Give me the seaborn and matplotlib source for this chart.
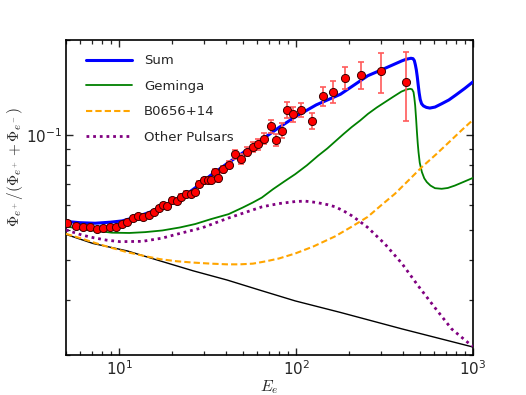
import numpy as np
import pandas as pd
import matplotlib
matplotlib.use("Agg")
import matplotlib.pyplot as plt
import seaborn as sns
from matplotlib.ticker import LogLocator, NullFormatter, LogFormatterMathtext

# ---------------- data ----------------
sum_energy = [5.0, 6.0, 7.3, 8.9, 10.4, 12.0, 14.0, 17.5, 21.8, 26.9, 33.0, 41.3, 52.0, 64.4,
              80.0, 98.8, 130, 178, 215, 254, 318, 397, 420, 446, 458, 466, 472, 478, 484,
              490, 496, 503, 512, 525, 545, 570, 610, 665, 730, 800, 900, 1000]
sum_frac = [0.0531, 0.0526, 0.0524, 0.0528, 0.0533, 0.0545, 0.0561, 0.0587, 0.0622, 0.0679,
            0.0745, 0.0815, 0.0890, 0.0968, 0.1055, 0.114, 0.1245, 0.1345, 0.1445, 0.154,
            0.1626, 0.1718, 0.1738, 0.175, 0.1745, 0.172, 0.167, 0.161, 0.153, 0.144, 0.136,
            0.1295, 0.1255, 0.1235, 0.1222, 0.1216, 0.1225, 0.1255, 0.129, 0.1338, 0.1405,
            0.1473]

geminga_energy = [5.0, 6.0, 7.3, 9.1, 11.4, 14.0, 17.5, 22.0, 26.9, 33.0, 41.5, 50.0, 57.0,
                  64.0, 74.0, 86.0, 98.8, 115, 133, 150, 166, 185, 206, 230, 255, 285, 318,
                  355, 394, 420, 441, 452, 461, 466, 471, 477, 482, 487, 492, 500, 514, 530,
                  548, 575, 610, 665, 720, 789, 880, 1000]
geminga_frac = [0.0512, 0.0503, 0.0496, 0.0489, 0.0488, 0.0491, 0.0497, 0.0508, 0.0521, 0.054,
                0.056, 0.0588, 0.061, 0.0632, 0.0672, 0.0712, 0.075, 0.080, 0.0858, 0.0905,
                0.0952, 0.1005, 0.1058, 0.111, 0.1166, 0.122, 0.127, 0.1322, 0.1372, 0.1392,
                0.140, 0.1395, 0.1367, 0.131, 0.1239, 0.112, 0.102, 0.094, 0.0881, 0.0815,
                0.0762, 0.0728, 0.0708, 0.069, 0.0677, 0.0674, 0.0678, 0.069, 0.0708, 0.073]

b0656_energy = [5.0, 6.0, 7.1, 8.5, 11.1, 14.0, 17.0, 21.0, 26.2, 33.0, 40.7, 48.0, 57.0,
                68.0, 80.0, 98.8, 125, 166, 205, 254, 300, 362, 430, 514, 620, 750, 870, 1000]
b0656_frac = [0.0485, 0.047, 0.0456, 0.0442, 0.0424, 0.0412, 0.0403, 0.0397, 0.0393, 0.039,
              0.0388, 0.0388, 0.039, 0.0397, 0.0405, 0.042, 0.0442, 0.0476, 0.051, 0.0549,
              0.0595, 0.065, 0.0715, 0.079, 0.0868, 0.096, 0.1039, 0.1116]

other_energy = [5.0, 6.2, 7.2, 8.5, 10.1, 13.5, 17.5, 21.3, 29.5, 41.3, 57.1, 64.3, 80.0,
                98.8, 112, 130, 151, 166, 185, 207, 230, 254, 318, 397, 489, 608, 757, 937, 1000]
other_frac = [0.0499, 0.048, 0.0471, 0.0463, 0.0458, 0.0459, 0.047, 0.0484, 0.0507, 0.0544,
              0.0578, 0.0591, 0.0605, 0.0614, 0.0616, 0.061, 0.060, 0.0591, 0.0574, 0.0553,
              0.053, 0.0508, 0.045, 0.039, 0.0332, 0.0283, 0.0242, 0.0219, 0.0213]

secondary_energy = [5.0, 7.1, 11.1, 17.0, 26.2, 40.7, 62.7, 98.8, 178, 397, 1000]
secondary_frac = [0.0483, 0.0452, 0.0428, 0.0398, 0.037, 0.0346, 0.0321, 0.0297, 0.0273,
                  0.0242, 0.0212]

data_energy = [5.06, 5.72, 6.26, 6.84, 7.46, 8.14, 8.87, 9.57, 10.4, 11.1, 11.9, 12.8, 13.7,
               14.7, 15.7, 16.8, 17.7, 18.7, 19.9, 21.3, 22.4, 23.7, 25.3, 26.9, 28.3, 30.0,
               31.7, 33.1, 34.9, 36.4, 38.8, 41.5, 45.2, 48.9, 52.7, 57.2, 61.2, 66.2, 71.8,
               76.9, 83.0, 89.3, 96.2, 107, 123, 142, 162, 189, 232, 301, 417]
data_frac = [0.0526, 0.0514, 0.0510, 0.0508, 0.0503, 0.0506, 0.0510, 0.0510, 0.0521, 0.0528,
             0.0545, 0.0551, 0.0548, 0.0555, 0.0568, 0.0585, 0.0597, 0.0595, 0.0620, 0.0617,
             0.0637, 0.0651, 0.0648, 0.0657, 0.0700, 0.0718, 0.0721, 0.0718, 0.0763, 0.0727,
             0.0778, 0.0803, 0.0868, 0.0837, 0.0885, 0.0916, 0.0932, 0.0973, 0.1064, 0.0962,
             0.1032, 0.1202, 0.1166, 0.1202, 0.1108, 0.1325, 0.1371, 0.1519, 0.1548, 0.1589,
             0.1466]
data_err = [0.0006, 0.0006, 0.0006, 0.0006, 0.0006, 0.0006, 0.0006, 0.0006, 0.0007, 0.0007,
            0.0007, 0.0007, 0.0007, 0.0008, 0.0008, 0.0008, 0.0009, 0.0009, 0.0009, 0.0010,
            0.0010, 0.0010, 0.0011, 0.0011, 0.0012, 0.0013, 0.0013, 0.0014, 0.0018, 0.0017,
            0.0019, 0.0020, 0.0030, 0.0030, 0.0030, 0.0033, 0.0035, 0.0038, 0.0048, 0.0042,
            0.0058, 0.0068, 0.0064, 0.0061, 0.0067, 0.0092, 0.0107, 0.0125, 0.0155, 0.0232,
            0.0360]

xlim = (5, 1000)
ylim = (0.02, 0.2)

# ---------------- style ----------------
sns.set_style("ticks")
plt.rcParams.update({
    "font.family": ["DejaVu Sans"],
    "mathtext.fontset": "cm",
    "xtick.direction": "in",
    "ytick.direction": "in",
    "xtick.top": True,
    "ytick.right": True,
    "axes.linewidth": 1.2,
    "axes.edgecolor": "black",
})

fig = plt.figure(figsize=(5.26, 3.95), dpi=100)
ax = fig.add_axes([66 / 526, 40 / 395, 407 / 526, 315 / 395])
ax.set_xscale("log")
ax.set_yscale("log")

sns.lineplot(x=sum_energy, y=sum_frac, ax=ax, color="#0000ff", lw=2.2,
             estimator=None, sort=False, label="Sum", zorder=3)
sns.lineplot(x=geminga_energy, y=geminga_frac, ax=ax, color="#008000", lw=1.3,
             estimator=None, sort=False, label="Geminga", zorder=3)
sns.lineplot(x=b0656_energy, y=b0656_frac, ax=ax, color="#ffa500", lw=1.5,
             estimator=None, sort=False, label="B0656+14", zorder=3)
sns.lineplot(x=other_energy, y=other_frac, ax=ax, color="#800080", lw=2.0,
             estimator=None, sort=False, label="Other Pulsars", zorder=3)
sns.lineplot(x=secondary_energy, y=secondary_frac, ax=ax, color="black", lw=1.0,
             estimator=None, sort=False, zorder=2)

lines = ax.get_lines()
lines[2].set_linestyle((0, (3, 1.5)))
lines[3].set_linestyle((0, (1, 1.4)))

ax.errorbar(data_energy, data_frac, yerr=data_err, fmt="none", ecolor="#ff5a5a",
            elinewidth=1.2, capsize=2.5, capthick=1.2, zorder=4)
sns.scatterplot(x=data_energy, y=data_frac, ax=ax, color="#ff0000", edgecolor="#3a0000",
                linewidth=0.7, s=34, zorder=5, legend=False)

ax.set_xlim(*xlim)
ax.set_ylim(*ylim)

ax.xaxis.set_major_locator(LogLocator(base=10))
ax.xaxis.set_minor_locator(LogLocator(base=10, subs=np.arange(2, 10)))
ax.yaxis.set_major_locator(LogLocator(base=10))
ax.yaxis.set_minor_locator(LogLocator(base=10, subs=np.arange(2, 10)))
ax.xaxis.set_major_formatter(LogFormatterMathtext())
ax.yaxis.set_major_formatter(LogFormatterMathtext())
ax.xaxis.set_minor_formatter(NullFormatter())
ax.yaxis.set_minor_formatter(NullFormatter())
ax.tick_params(which="major", length=5, width=1.0, labelsize=11, pad=3)
ax.tick_params(which="minor", length=3, width=0.9)

ax.set_xlabel(r"$E_e$", fontsize=11.5, labelpad=0)
ax.set_ylabel(r"$\Phi_{e^+}/(\Phi_{e^+}+\Phi_{e^-})$", fontsize=11)
ax.yaxis.set_label_coords(-0.10, 0.597)

leg = ax.legend(loc="upper left", frameon=False, fontsize=9.5, handlelength=3.5,
                handletextpad=0.9, labelspacing=0.95, borderaxespad=0.0,
                bbox_to_anchor=(0.036, 0.971))

fig.savefig("out.png", dpi=100)
